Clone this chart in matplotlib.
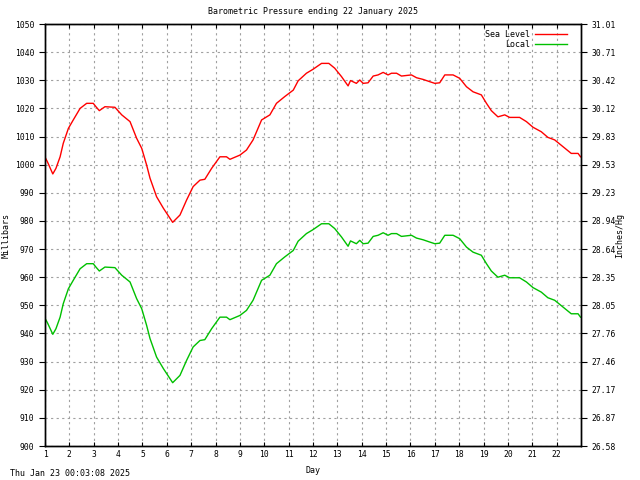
import matplotlib
matplotlib.use('Agg')
import matplotlib.pyplot as plt

# sea level pressure (mbar), x in days
sea_days = [1.0, 1.1, 1.32, 1.45, 1.62, 1.75, 1.96, 2.16, 2.44, 2.71, 2.98, 3.1, 3.23, 3.46,
            3.87, 4.15, 4.49, 4.76, 4.97, 5.17, 5.31, 5.58, 5.86, 6.24, 6.54, 6.81, 7.08,
            7.36, 7.56, 7.84, 8.18, 8.45, 8.59, 9.0, 9.27, 9.54, 9.89, 10.23, 10.5, 10.84,
            11.19, 11.39, 11.73, 12.0, 12.35, 12.65, 12.89, 13.17, 13.44, 13.54, 13.78,
            13.92, 14.06, 14.26, 14.47, 14.67, 14.88, 15.08, 15.22, 15.43, 15.63, 16.04,
            16.25, 16.52, 16.79, 17.0, 17.2, 17.41, 17.75, 18.02, 18.3, 18.57, 18.91,
            19.12, 19.32, 19.59, 19.87, 20.07, 20.48, 20.76, 21.03, 21.37, 21.64, 21.92,
            22.26, 22.6, 22.88, 22.98]
sea_level = [1002.7, 1001.0, 996.7, 998.7, 1002.8, 1007.6, 1012.9, 1015.9, 1020.0, 1021.8,
             1021.8, 1020.5, 1019.2, 1020.6, 1020.4, 1017.7, 1015.3, 1009.4, 1005.8, 999.9,
             995.2, 988.6, 984.5, 979.5, 982.1, 987.4, 992.2, 994.5, 994.8, 998.7, 1002.8,
             1002.8, 1001.9, 1003.4, 1005.2, 1008.8, 1015.9, 1017.7, 1021.8, 1024.2, 1026.5,
             1029.8, 1032.5, 1033.9, 1036.0, 1036.0, 1034.3, 1031.3, 1028.0, 1029.9, 1028.9,
             1030.1, 1028.9, 1029.1, 1031.5, 1031.9, 1032.8, 1031.9, 1032.5, 1032.5, 1031.5,
             1031.9, 1030.9, 1030.3, 1029.5, 1028.9, 1029.1, 1031.9, 1031.9, 1030.7, 1027.7,
             1025.9, 1024.8, 1021.8, 1019.2, 1017.0, 1017.7, 1016.8, 1016.8, 1015.3, 1013.3,
             1011.7, 1009.7, 1008.8, 1006.4, 1004.0, 1004.0, 1002.8]

# local (station) pressure (mbar)
local_days = sea_days
local = [945.4, 943.8, 939.7, 941.7, 945.8, 950.6, 955.9, 958.9, 963.0, 964.8,
         964.8, 963.5, 962.2, 963.6, 963.4, 960.7, 958.3, 952.4, 948.8, 942.9,
         938.2, 931.6, 927.5, 922.5, 925.1, 930.4, 935.2, 937.5, 937.8, 941.7, 945.8,
         945.8, 944.9, 946.4, 948.2, 951.8, 958.9, 960.7, 964.8, 967.2, 969.5,
         972.8, 975.5, 976.9, 979.0, 979.0, 977.3, 974.3, 971.0, 972.9, 971.9,
         973.1, 971.9, 972.1, 974.5, 974.9, 975.8, 974.9, 975.5, 975.5, 974.5,
         974.9, 973.9, 973.3, 972.5, 971.9, 972.1, 974.9, 974.9, 973.7, 970.7,
         968.9, 967.8, 964.8, 962.2, 960.0, 960.7, 959.8, 959.8, 958.3, 956.3,
         954.7, 952.7, 951.8, 949.4, 947.0, 947.0, 945.8]

mbar_ticks = list(range(900, 1051, 10))
inhg_labels = ['26.58', '26.87', '27.17', '27.46', '27.76', '28.05', '28.35', '28.64',
               '28.94', '29.23', '29.53', '29.83', '30.12', '30.42', '30.71', '31.01']
day_ticks = list(range(1, 23))

font = 'DejaVu Sans Mono'
fs = 6
tfs = 5.8

fig = plt.figure(figsize=(6.4, 4.8), dpi=100)
ax = fig.add_axes([45/640, 1 - 446/480, 536/640, 422/480])

ax.plot(sea_days, sea_level, color='#ff0000', lw=1, label='Sea Level')
ax.plot(local_days, local, color='#00c000', lw=1, label='Local')

ax.set_xlim(1, 23)
ax.set_ylim(900, 1050)
ax.set_xticks(day_ticks)
ax.set_yticks(mbar_ticks)
ax.grid(True, color='#a0a0a0', linestyle=(0, (2, 3)), lw=0.8)
ax.tick_params(axis='x', direction='in', length=3, top=True, labelsize=tfs, pad=3)
ax.tick_params(axis='y', direction='out', length=4, labelsize=tfs)
for lbl in ax.get_xticklabels() + ax.get_yticklabels():
    lbl.set_family(font)
for s in ax.spines.values():
    s.set_linewidth(1.0)

ax2 = ax.twinx()
ax2.set_ylim(900, 1050)
ax2.set_yticks(mbar_ticks)
ax2.set_yticklabels(inhg_labels, family=font, fontsize=tfs)
ax2.tick_params(axis='y', direction='out', length=4)
for s in ax2.spines.values():
    s.set_linewidth(1.0)

# axis titles placed like the reference
fig.text(6/640, 1 - 235/480, 'Millibars', family=font, fontsize=fs,
         rotation=90, ha='center', va='center')
fig.text(620/640, 1 - 236/480, 'Inches/Hg', family=font, fontsize=fs,
         rotation=90, ha='center', va='center')
ax.set_xlabel('Day', family=font, fontsize=fs, labelpad=5)
ax.set_title('Barometric Pressure ending 22 January 2025', family=font, fontsize=fs, pad=7)

leg = ax.legend(loc='upper right', frameon=False, markerfirst=False,
                prop={'family': font, 'size': fs}, handlelength=3.8,
                borderaxespad=0.3, labelspacing=0.1, handletextpad=0.6,
                bbox_to_anchor=(0.985, 1.0))
for t in leg.get_texts():
    t.set_ha('right')

fig.text(10/640, 1 - 474/480, 'Thu Jan 23 00:03:08 2025', family=font, fontsize=fs, va='center')

fig.savefig('out.png', dpi=100)
